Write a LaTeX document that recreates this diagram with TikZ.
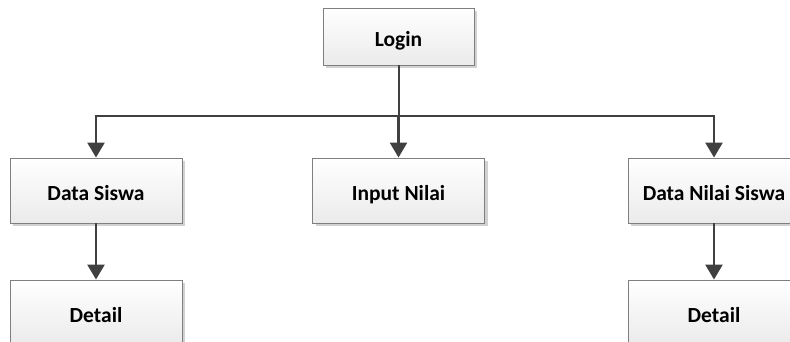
\documentclass[tikz,border=0pt]{standalone}
\usepackage{fontspec}
\setmainfont{Carlito}
\usetikzlibrary{arrows.meta,shadows}
\definecolor{linec}{HTML}{404040}
\definecolor{boxline}{HTML}{7F7F7F}
\tikzset{
  box/.style={draw=boxline, line width=0.9pt, top color=white, bottom color=black!8,
    drop shadow={shadow xshift=3pt, shadow yshift=-3pt, fill=black!18, opacity=1},
    minimum width=172pt, minimum height=65pt, inner sep=0pt,
    text height=20pt, text depth=0pt,
    font=\fontsize{21.5}{25}\selectfont\bfseries},
  conn/.style={draw=linec, line width=2.6pt, line join=miter},
  tip/.style={-{Triangle[length=15pt,width=17pt,fill=linec]}}
}
\begin{document}
\begin{tikzpicture}[x=1pt,y=1pt]
\useasboundingbox (0,0) rectangle (790,-342);
\clip (0,0) rectangle (790,-342);
\node[box, minimum width=151pt, minimum height=57pt] (login) at (398.5,-36.5) {Login};
\node[box] (ds) at (96,-190.5) {Data Siswa};
\node[box] (inp) at (398.5,-190.5) {Input Nilai};
\node[box] (dns) at (714,-190.5) {Data Nilai Siswa};
\node[box] (det1) at (96,-312.5) {Detail};
\node[box] (det2) at (714,-312.5) {Detail};
\coordinate (bar) at (398.5,-116);
\draw[conn, line width=2pt] (login.south) -- (bar);
\draw[conn, tip] (bar) -- (inp.north);
\draw[conn, tip] (bar) -| (ds.north);
\draw[conn, tip] (bar) -| (dns.north);
\draw[conn, tip] (ds.south) -- (det1.north);
\draw[conn, tip] (dns.south) -- (det2.north);
\end{tikzpicture}
\end{document}
